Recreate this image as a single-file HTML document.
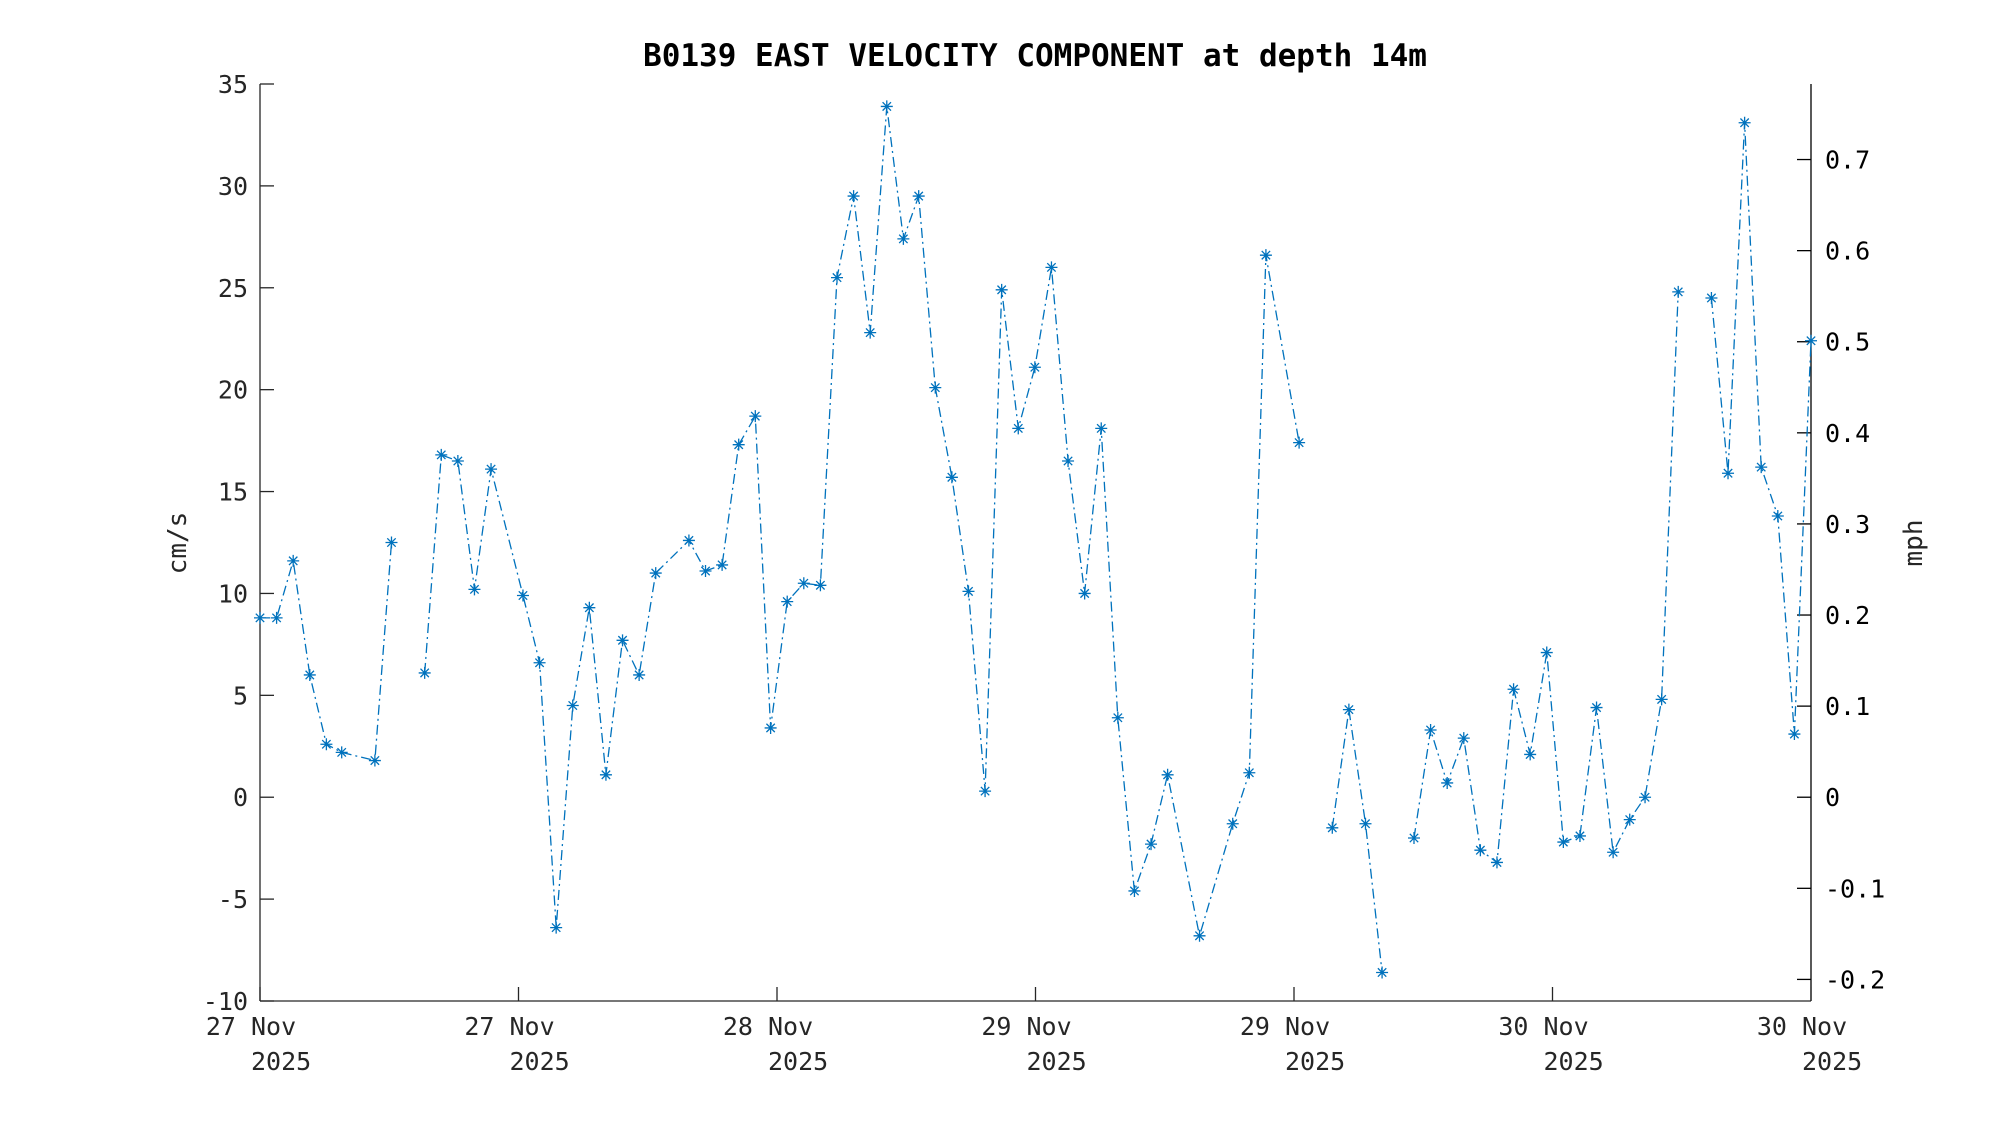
<!DOCTYPE html>
<html><head><meta charset="utf-8"><style>
html,body{margin:0;padding:0;background:#fff;}
svg text{font-family:"DejaVu Sans Mono","Liberation Mono",monospace;fill:#262626;}
</style></head><body>
<svg id="s" width="2000" height="1125" xmlns="http://www.w3.org/2000/svg">
<text x="1035" y="66" text-anchor="middle" font-size="31" font-weight="bold" style="fill:#000">B0139 EAST VELOCITY COMPONENT at depth 14m</text>
<text transform="translate(186,543) rotate(-90)" text-anchor="middle" font-size="26">cm/s</text>
<text transform="translate(1922,543) rotate(-90)" text-anchor="middle" font-size="26">mph</text>
<g id="ax"></g>
<g id="dat"></g>
</svg>
<script>
const L=260,R=1811,T=84,B=1001;
const ns="http://www.w3.org/2000/svg";
function el(t,a,p,txt){const e=document.createElementNS(ns,t);for(const k in a)e.setAttribute(k,a[k]);if(txt!==undefined)e.textContent=txt;p.appendChild(e);return e;}
const ax=document.getElementById('ax'),dat=document.getElementById('dat');
const Y=v=>T+(35-v)*(B-T)/45;
const X=d=>L+(d-204)/1215*(R-L);
el('line',{x1:L,y1:T,x2:L,y2:B,stroke:'#262626','stroke-width':1.3},ax);
el('line',{x1:L,y1:B,x2:R,y2:B,stroke:'#262626','stroke-width':1.3},ax);
el('line',{x1:R,y1:T,x2:R,y2:B,stroke:'#000','stroke-width':1.3},ax);
for(let v=-10;v<=35;v+=5){const y=Y(v);el('line',{x1:L,y1:y,x2:L+14,y2:y,stroke:'#262626','stroke-width':1.3},ax);
el('text',{x:L-12,y:y+9,'text-anchor':'end','font-size':25},ax,String(v));}
for(let m=-0.2;m<=0.71;m+=0.1){const v=m/0.0223694;const y=Y(v);el('line',{x1:R-14,y1:y,x2:R,y2:y,stroke:'#000','stroke-width':1.3},ax);
let s=(Math.round(m*10)/10).toString();if(Math.abs(m)<1e-6)s='0';
el('text',{x:R+14,y:y+9,'font-size':25,style:'fill:#000'},ax,s);}
const days=['27','27','28','29','29','30','30'];
for(let i=0;i<7;i++){const x=L+i*(R-L)/6;
el('line',{x1:x,y1:B,x2:x,y2:B-14,stroke:'#262626','stroke-width':1.3},ax);
el('text',{x:x-9,y:1035,'text-anchor':'middle','font-size':25},ax,days[i]+' Nov');
el('text',{x:x-9,y:1070,'font-size':25},ax,'2025');}
const segs=[
[[204,8.8],[217,8.8],[230,11.6],[243,6.0],[256,2.6],[268,2.2],[294,1.8],[307,12.5]],
[[333,6.1],[346,16.8],[359,16.5],[372,10.2],[385,16.1],[410,9.9],[423,6.6],[436,-6.4],[449,4.5],[462,9.3],[475,1.1],[488,7.7],[501,6.0],[514,11.0],[540,12.6],[553,11.1],[566,11.4],[579,17.3],[592,18.7],[604,3.4],[617,9.6],[630,10.5],[643,10.4],[656,25.5],[669,29.5],[682,22.8],[695,33.9],[708,27.4],[720,29.5],[733,20.1],[746,15.7],[759,10.1],[772,0.3],[785,24.9],[798,18.1],[811,21.1],[824,26.0],[837,16.5],[850,10.0],[863,18.1],[876,3.9],[889,-4.6],[902,-2.3],[915,1.1],[940,-6.8],[966,-1.3],[979,1.2],[992,26.6],[1018,17.4]],
[[1044,-1.5],[1057,4.3],[1070,-1.3],[1083,-8.6]],
[[1108,-2.0],[1121,3.3],[1134,0.7],[1147,2.9],[1160,-2.6],[1173,-3.2],[1186,5.3],[1199,2.1],[1212,7.1],[1225,-2.2],[1238,-1.9],[1251,4.4],[1264,-2.7],[1277,-1.1],[1289,0.0],[1302,4.8],[1315,24.8]],
[[1341,24.5],[1354,15.9],[1367,33.1],[1380,16.2],[1393,13.8],[1406,3.1],[1419,22.4]]];
const C='#0072BD';
for(const s of segs){
el('polyline',{points:s.map(p=>X(p[0]).toFixed(1)+','+Y(p[1]).toFixed(1)).join(' '),fill:'none',stroke:C,'stroke-width':1.3,'stroke-dasharray':'10 4 2 4'},dat);
for(const p of s){const x=X(p[0]),y=Y(p[1]),r=6;
el('path',{d:`M${x-r},${y}H${x+r}M${x},${y-r}V${y+r}M${x-r*.7},${y-r*.7}L${x+r*.7},${y+r*.7}M${x-r*.7},${y+r*.7}L${x+r*.7},${y-r*.7}`,stroke:C,'stroke-width':1.3,fill:'none'},dat);}
}
</script>
</body></html>
